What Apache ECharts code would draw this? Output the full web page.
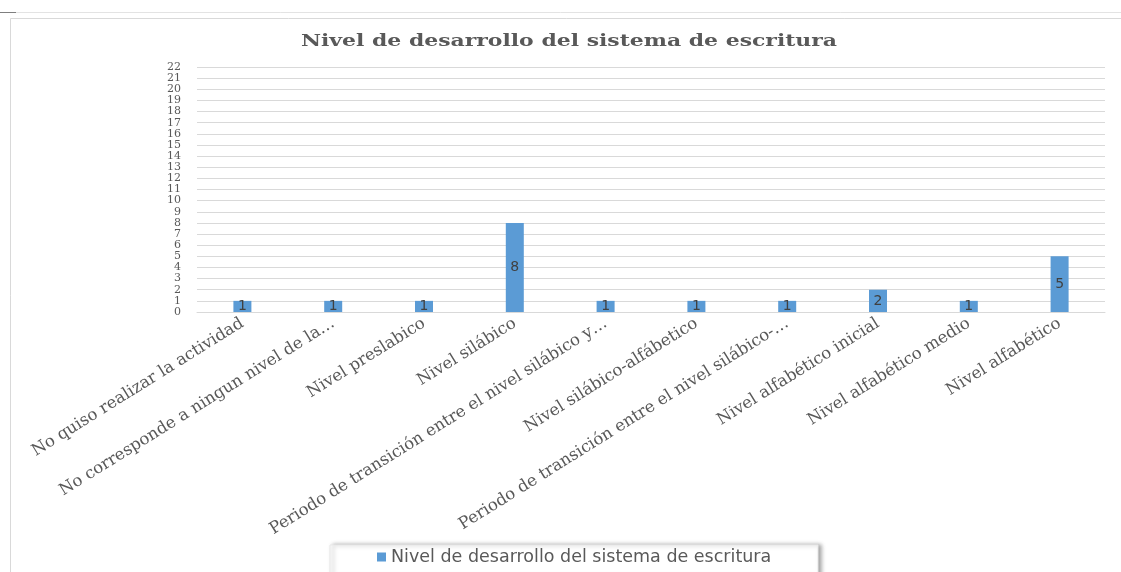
<!DOCTYPE html>
<html><head><meta charset="utf-8">
<script src="https://cdn.jsdelivr.net/npm/echarts@6/dist/echarts.min.js"></script>
<style>html,body{margin:0;padding:0;background:#fff}#c{width:1121px;height:572px}</style>
</head><body><div id="c"></div>
<script>
const categories = [
  "No quiso realizar la actividad",
  "No corresponde a ningun nivel de la…",
  "Nivel preslabico",
  "Nivel silábico",
  "Periodo de transición entre el nivel silábico y…",
  "Nivel silábico-alfábetico",
  "Periodo de transición entre el nivel silábico-…",
  "Nivel alfabético inicial",
  "Nivel alfabético medio",
  "Nivel alfabético"
];
const values = [1, 1, 1, 8, 1, 1, 1, 2, 1, 5];
const seriesName = "Nivel de desarrollo del sistema de escritura";
const titleText = "Nivel de desarrollo del sistema de escritura";

const chart = echarts.init(document.getElementById('c'));
chart.setOption({
  animation: false,
  backgroundColor: '#fff',
  graphic: [
    {type: 'line', shape: {x1: 0, y1: 12.5, x2: 1121, y2: 12.5}, style: {stroke: '#e3e3e3', lineWidth: 1}},
    {type: 'line', shape: {x1: 0, y1: 12.5, x2: 16, y2: 12.5}, style: {stroke: '#7f7f7f', lineWidth: 1}},
    {type: 'rect', shape: {x: 10.5, y: 18.5, width: 1120, height: 560}, style: {fill: 'none', stroke: '#d9d9d9', lineWidth: 1}},
    {type: 'rect', z: -1, shape: {x: 330, y: 545, width: 488, height: 32},
     style: {fill: '#fff', stroke: '#e8e8e8', lineWidth: 1, shadowBlur: 4, shadowOffsetX: 3, shadowColor: 'rgba(0,0,0,0.35)'}},
    {type: 'text', x: 569, y: 42, scaleX: 1.29, scaleY: 1,
     style: {text: titleText, fontFamily: 'DejaVu Sans', fontWeight: 'bold', fontSize: 17, fill: '#595959', align: 'center', verticalAlign: 'middle', fontFamily: 'DejaVu Serif'}}
  ],
  legend: {
    data: [seriesName], left: 372, top: 543, itemWidth: 9, itemHeight: 9, itemGap: 6, icon: 'rect',
    textStyle: {fontFamily: 'DejaVu Sans', fontSize: 17.5, color: '#595959'}
  },
  grid: {left: 197, right: 16, top: 67, bottom: 260},
  xAxis: {
    type: 'category', data: categories,
    axisLine: {lineStyle: {color: '#d9d9d9'}}, axisTick: {show: false},
    axisLabel: {interval: 0, rotate: 32, margin: 10, fontFamily: 'DejaVu Serif', fontSize: 16.5, color: '#595959'}
  },
  yAxis: {
    type: 'value', min: 0, max: 22, interval: 1,
    axisLine: {show: false}, axisTick: {show: false},
    splitLine: {lineStyle: {color: '#d9d9d9'}},
    axisLabel: {margin: 16, fontFamily: 'DejaVu Serif', fontSize: 11, color: '#595959'}
  },
  series: [{
    name: seriesName, type: 'bar', data: values, barWidth: 18,
    itemStyle: {color: '#5b9bd5'},
    label: {show: true, position: 'inside', fontFamily: 'DejaVu Sans', fontSize: 14, color: '#404040'}
  }]
});
</script></body></html>
